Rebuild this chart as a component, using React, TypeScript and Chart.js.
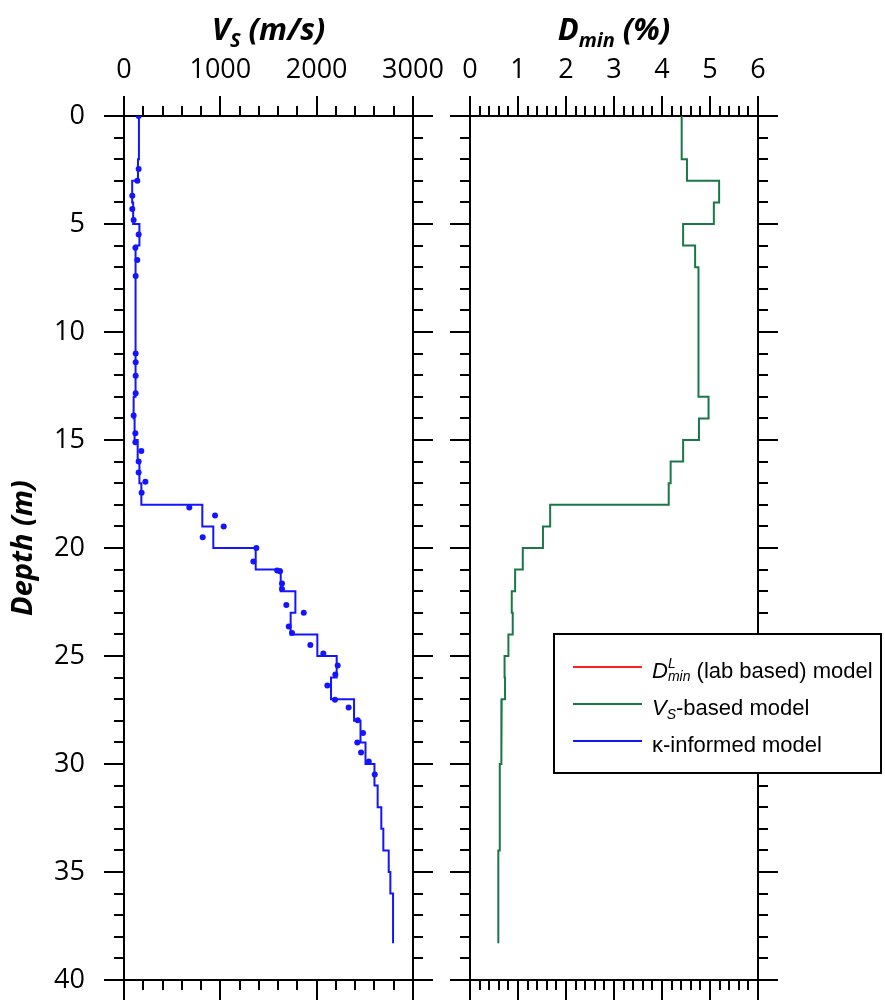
import React, { useEffect, useRef } from "react";
import { Chart, registerables } from "chart.js";

Chart.register(...registerables);

// ---------------- data ----------------
const depthTicks = [0, 5, 10, 15, 20, 25, 30, 35, 40];
const vsTicks = [0, 1000, 2000, 3000];
const dminTicks = [0, 1, 2, 3, 4, 5, 6];
const depthMinorStep = 1;
const vsMinorStep = 200;
const dminMinorStep = 0.2;

// kappa-informed Vs step model (m/s) per layer
const vsLayerTop = [0, 2, 3, 4, 5, 6, 13, 14, 15, 16, 17, 18, 19, 20, 21, 22, 23, 24, 25, 26, 27, 28, 29, 30, 31, 32, 33, 34, 35, 36];
const vsLayerBottom = [2, 3, 4, 5, 6, 13, 14, 15, 16, 17, 18, 19, 20, 21, 22, 23, 24, 25, 26, 27, 28, 29, 30, 31, 32, 33, 34, 35, 36, 38.3];
const vsKappaModel = [155, 145, 85, 95, 160, 120, 100, 110, 142, 160, 180, 813, 927, 1367, 1627, 1779, 1730, 2007, 2208, 2149, 2388, 2455, 2507, 2600, 2633, 2671, 2692, 2748, 2765, 2793];

// measured Vs points
const measuredDepth = [0, 2.45, 3.0, 3.69, 4.3, 4.81, 5.49, 6.1, 6.67, 7.41, 10.99, 11.4, 12.02, 12.84, 13.87, 14.69, 15.1, 15.51, 16.0, 16.51, 16.93, 17.44, 18.13, 18.5, 19.0, 19.5, 20.0, 20.63, 21.04, 21.08, 21.64, 21.9, 22.64, 23.0, 23.64, 23.93, 24.49, 24.89, 25.44, 25.86, 26.36, 27.02, 27.38, 27.98, 28.56, 29.0, 29.47, 29.89, 30.49];
const measuredVs = [152, 152, 138, 86, 86, 100, 152, 118, 138, 121, 121, 121, 121, 121, 100, 118, 118, 180, 152, 152, 222, 183, 678, 945, 1035, 817, 1374, 1343, 1590, 1620, 1640, 1640, 1685, 1866, 1710, 1744, 1934, 2069, 2218, 2194, 2111, 2190, 2332, 2426, 2481, 2422, 2461, 2541, 2603];

// Dmin (%) Vs-based step model
const dminLayerTop = [0, 2, 3, 4, 5, 6, 7, 13, 14, 15, 16, 17, 18, 19, 20, 21, 22, 23, 24, 25, 26, 27, 28, 30, 34];
const dminLayerBottom = [2, 3, 4, 5, 6, 7, 13, 14, 15, 16, 17, 18, 19, 20, 21, 22, 23, 24, 25, 26, 27, 28, 30, 34, 38.3];
const dminVsBased = [4.41, 4.52, 5.19, 5.08, 4.44, 4.69, 4.76, 4.97, 4.77, 4.44, 4.18, 4.14, 1.67, 1.52, 1.1, 0.94, 0.87, 0.89, 0.8, 0.72, 0.73, 0.66, 0.65, 0.62, 0.59];
const dminLabBased: { x: number; y: number }[] = [];
const dminKappa: { x: number; y: number }[] = [];

// ---------------- styling ----------------
const W = 885;
const H = 1000;
const BLUE = "#1414ff";
const GREEN = "#19774a";
const RED = "#ff2020";
const SANS = "'Open Sans', 'DejaVu Sans', sans-serif";
const LEG = "'Liberation Sans', Arial, sans-serif";

type Seg = { t: string; size: number; bold?: boolean; italic?: boolean; dy?: number; stack?: boolean };

function fontOf(s: Seg, family: string) {
  return `${s.italic ? "italic " : ""}${s.bold ? "bold " : ""}${s.size}px ${family}`;
}
function richWidth(ctx: CanvasRenderingContext2D, segs: Seg[], family: string) {
  let w = 0;
  let stackW = 0;
  for (const s of segs) {
    ctx.font = fontOf(s, family);
    const m = ctx.measureText(s.t).width;
    if (s.stack) stackW = Math.max(stackW, m);
    else {
      w += Math.max(m, stackW);
      stackW = 0;
    }
  }
  return w + stackW;
}
function drawRich(ctx: CanvasRenderingContext2D, segs: Seg[], x: number, y: number, align: string, family: string, color: string) {
  let cx = align === "center" ? x - richWidth(ctx, segs, family) / 2 : x;
  ctx.fillStyle = color;
  ctx.textAlign = "left";
  ctx.textBaseline = "alphabetic";
  let stackW = 0;
  for (const s of segs) {
    ctx.font = fontOf(s, family);
    ctx.fillText(s.t, cx, y + (s.dy || 0));
    const m = ctx.measureText(s.t).width;
    if (s.stack) stackW = Math.max(stackW, m);
    else {
      cx += Math.max(m, stackW);
      stackW = 0;
    }
  }
}

const titleVs: Seg[] = [
  { t: "V", size: 31, bold: true, italic: true },
  { t: "S", size: 20, bold: true, italic: true, dy: 7 },
  { t: " (m/s)", size: 31, bold: true, italic: true },
];
const titleDmin: Seg[] = [
  { t: "D", size: 31, bold: true, italic: true },
  { t: "min", size: 20, bold: true, italic: true, dy: 7 },
  { t: " (%)", size: 31, bold: true, italic: true },
];
const legendLabels: Seg[][] = [
  [
    { t: "D", size: 22, italic: true },
    { t: "L", size: 14, italic: true, dy: -10, stack: true },
    { t: "min", size: 14, italic: true, dy: 3 },
    { t: " (lab based) model", size: 22 },
  ],
  [
    { t: "V", size: 22, italic: true },
    { t: "S", size: 14, italic: true, dy: 4 },
    { t: "-based model", size: 22 },
  ],
  [{ t: "κ-informed model", size: 22 }],
];

function stepPoints(tops: number[], bottoms: number[], vals: number[]) {
  const pts: { x: number; y: number }[] = [];
  vals.forEach((v, i) => {
    pts.push({ x: v, y: tops[i] });
    pts.push({ x: v, y: bottoms[i] });
  });
  return pts;
}

// ---------------- plugins ----------------
const minorTicksPlugin = {
  id: "minorTicks",
  afterDraw(chart: any, _a: any, opts: any) {
    const { ctx, chartArea: a } = chart;
    const xs = chart.scales.x;
    const ys = chart.scales.y;
    ctx.save();
    ctx.strokeStyle = "#000";
    ctx.lineWidth = 2;
    ctx.beginPath();
    const nX = Math.round((xs.max - xs.min) / opts.xStep);
    for (let i = 0; i <= nX; i++) {
      const px = Math.round(xs.getPixelForValue(xs.min + i * opts.xStep));
      ctx.moveTo(px, a.top);
      ctx.lineTo(px, a.top - opts.len);
      ctx.moveTo(px, a.bottom);
      ctx.lineTo(px, a.bottom + opts.len);
    }
    const nY = Math.round((ys.max - ys.min) / opts.yStep);
    for (let i = 0; i <= nY; i++) {
      const py = Math.round(ys.getPixelForValue(ys.min + i * opts.yStep));
      ctx.moveTo(a.left, py);
      ctx.lineTo(a.left - opts.len, py);
      ctx.moveTo(a.right, py);
      ctx.lineTo(a.right + opts.len, py);
    }
    ctx.stroke();
    ctx.restore();
  },
};

const panelTitlePlugin = {
  id: "panelTitle",
  afterDraw(chart: any, _a: any, opts: any) {
    const ctx = chart.ctx;
    const cx = (chart.chartArea.left + chart.chartArea.right) / 2;
    ctx.save();
    drawRich(ctx, opts.segments, cx, opts.y, "center", SANS, "#000");
    ctx.restore();
  },
};

const legendBoxPlugin = {
  id: "legendBox",
  afterDraw(chart: any, _a: any, opts: any) {
    const ctx = chart.ctx;
    ctx.save();
    ctx.fillStyle = "#fff";
    ctx.fillRect(opts.x, opts.y, opts.w, opts.h);
    ctx.strokeStyle = "#000";
    ctx.lineWidth = 2;
    ctx.strokeRect(opts.x, opts.y, opts.w, opts.h);
    chart.data.datasets.forEach((ds: any, i: number) => {
      const ry = opts.rowY[i];
      ctx.strokeStyle = ds.borderColor;
      ctx.lineWidth = 2;
      ctx.beginPath();
      ctx.moveTo(opts.lineX0, ry);
      ctx.lineTo(opts.lineX1, ry);
      ctx.stroke();
      drawRich(ctx, legendLabels[i], opts.textX, ry + 11, "left", LEG, "#000");
    });
    ctx.restore();
  },
};

// ---------------- axes ----------------
const gridCfg = { drawOnChartArea: false, drawTicks: true, tickLength: 20, lineWidth: 2, color: "#000" };
const borderCfg = { display: true, color: "#000", width: 2 };
const tickFont = { family: SANS, size: 27 };

function axis(position: string, min: number, max: number, ticksArr: number[], labels: boolean, size: number, reverse = false, extra: any = {}) {
  return {
    type: "linear",
    position,
    min,
    max,
    reverse,
    grid: gridCfg,
    border: borderCfg,
    afterBuildTicks: (s: any) => {
      s.ticks = ticksArr.map((v) => ({ value: v }));
    },
    ticks: labels
      ? {
          display: true,
          font: tickFont,
          color: "#000",
          padding: position === "top" ? 9 : 19,
          maxRotation: 0,
          autoSkip: false,
          callback: (v: any) => String(v),
        }
      : { display: false },
    afterFit: (s: any) => {
      if (position === "top" || position === "bottom") s.height = size;
      else s.width = size;
      s.paddingTop = 0;
      s.paddingBottom = 0;
      s.paddingLeft = 0;
      s.paddingRight = 0;
    },
    ...extra,
  };
}

function configA(): any {
  return {
    type: "scatter",
    data: {
      datasets: [
        {
          label: "κ-informed model",
          data: stepPoints(vsLayerTop, vsLayerBottom, vsKappaModel),
          showLine: true,
          borderColor: BLUE,
          borderWidth: 2,
          pointRadius: 0,
          pointHoverRadius: 0,
        },
        {
          label: "Measured VS",
          data: measuredDepth.map((d, i) => ({ x: measuredVs[i], y: d })),
          showLine: false,
          pointRadius: 3,
          pointBackgroundColor: BLUE,
          pointBorderWidth: 0,
          borderColor: BLUE,
        },
      ],
    },
    options: {
      animation: false,
      responsive: false,
      events: [],
      layout: { padding: { left: 0, right: 452, top: 0, bottom: 0 } },
      plugins: {
        legend: { display: false },
        tooltip: { enabled: false },
        minorTicks: { xStep: vsMinorStep, yStep: depthMinorStep, len: 10 },
        panelTitle: { segments: titleVs, y: 40 },
      },
      scales: {
        x: axis("top", 0, 3000, vsTicks, true, 116),
        x2: axis("bottom", 0, 3000, vsTicks, false, 20),
        y: axis("left", 0, 40, depthTicks, true, 124, true, {
          title: {
            display: true,
            text: "Depth (m)",
            color: "#000",
            font: { family: SANS, size: 29, weight: "bold", style: "italic" },
            padding: { top: 6, bottom: 0 },
          },
        }),
        y2: axis("right", 0, 40, depthTicks, false, 20, true),
      },
    },
    plugins: [minorTicksPlugin, panelTitlePlugin],
  };
}

function configB(): any {
  return {
    type: "scatter",
    data: {
      datasets: [
        { label: "D_min^L (lab based) model", data: dminLabBased, showLine: true, borderColor: RED, borderWidth: 2, pointRadius: 0 },
        {
          label: "VS-based model",
          data: stepPoints(dminLayerTop, dminLayerBottom, dminVsBased),
          showLine: true,
          borderColor: GREEN,
          borderWidth: 2,
          pointRadius: 0,
          pointHoverRadius: 0,
        },
        { label: "κ-informed model", data: dminKappa, showLine: true, borderColor: BLUE, borderWidth: 2, pointRadius: 0 },
      ],
    },
    options: {
      animation: false,
      responsive: false,
      events: [],
      layout: { padding: { left: 450, right: 107, top: 0, bottom: 0 } },
      plugins: {
        legend: { display: false },
        tooltip: { enabled: false },
        minorTicks: { xStep: dminMinorStep, yStep: depthMinorStep, len: 10 },
        panelTitle: { segments: titleDmin, y: 40 },
        legendBox: { x: 554, y: 634, w: 327, h: 139, rowY: [667, 704, 741], lineX0: 573, lineX1: 642, textX: 652 },
      },
      scales: {
        x: axis("top", 0, 6, dminTicks, true, 116),
        x2: axis("bottom", 0, 6, dminTicks, false, 20),
        y: axis("left", 0, 40, depthTicks, false, 20, true),
        y2: axis("right", 0, 40, depthTicks, false, 20, true),
      },
    },
    plugins: [minorTicksPlugin, panelTitlePlugin, legendBoxPlugin],
  };
}

export default function App() {
  const refA = useRef<HTMLCanvasElement>(null);
  const refB = useRef<HTMLCanvasElement>(null);
  useEffect(() => {
    const a = new Chart(refA.current as HTMLCanvasElement, configA());
    const b = new Chart(refB.current as HTMLCanvasElement, configB());
    return () => {
      a.destroy();
      b.destroy();
    };
  }, []);
  return (
    <div style={{ position: "absolute", left: 0, top: 0, width: W, height: H, background: "#fff", overflow: "hidden" }}>
      <canvas ref={refA} width={W} height={H} style={{ position: "absolute", left: 0, top: 0 }} />
      <canvas ref={refB} width={W} height={H} style={{ position: "absolute", left: 0, top: 0 }} />
    </div>
  );
}
